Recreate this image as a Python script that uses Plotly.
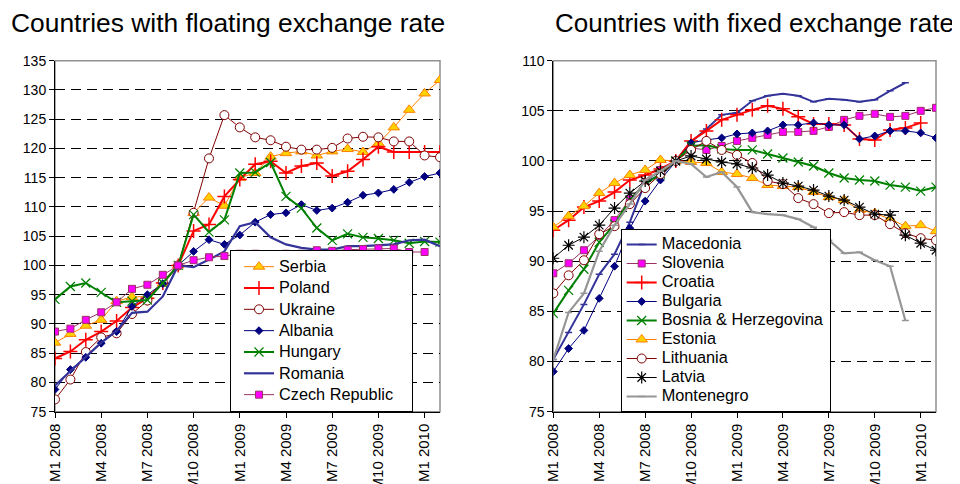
import plotly.graph_objects as go

months = [f"M{m} {y}" for y in (2008, 2009) for m in range(1, 13)] + ["M1 2010", "M2 2010"]

# ---- floating exchange rate countries ----
serbia = [86.8, 88.3, 89.7, 90.7, 93.9, 94.6, 94.7, 96.9, 100, 109.0, 111.6, 110.2, 115.0, 115.8, 118.6, 119.2,
          119.5, 118.8, 119.5, 119.9, 119.4, 120.9, 123.6, 126.6, 129.4, 131.7]
poland = [84.1, 85.3, 87.3, 88.7, 90.5, 92.8, 94.4, 97.0, 100, 105.9, 107.0, 111.8, 114.7, 117.3, 117.8, 115.8,
          117.0, 117.5, 115.3, 116.1, 118.1, 120.3, 119.4, 119.4, 119.4, 119.4]
ukraine = [77.1, 80.5, 85.2, 87.7, 88.4, 91.7, 94.0, 97.2, 100, 109.0, 118.3, 125.7, 123.6, 121.9, 121.4, 120.3,
           119.8, 119.8, 120.1, 121.7, 122.0, 121.9, 121.2, 121.2, 118.8, 118.5]
albania = [78.8, 82.2, 84.3, 86.7, 88.7, 93.0, 95.0, 96.9, 100, 102.4, 104.4, 103.6, 105.2, 107.4, 108.7, 109.0,
           110.4, 109.4, 109.8, 110.8, 112.0, 112.4, 113.0, 114.2, 115.2, 115.8]
hungary = [94.2, 96.4, 97.0, 95.4, 93.7, 93.9, 94.1, 97.0, 100, 108.7, 105.7, 107.8, 115.8, 115.9, 117.6, 111.8,
           109.8, 106.4, 104.3, 105.4, 104.8, 104.6, 104.3, 103.8, 104.1, 104.0]
romania = [79.5, 81.9, 84.4, 86.8, 88.8, 91.9, 92.1, 94.7, 100, 99.7, 101.0, 102.4, 106.7, 107.4, 104.8, 103.6,
           103.0, 102.7, 102.7, 103.3, 103.3, 103.4, 103.6, 104.3, 104.4, 103.3]
czech = [88.7, 89.2, 90.7, 92.0, 93.7, 96.0, 96.7, 98.4, 100, 100.9, 101.4, 101.6, 102.0, 102.0, 101.9, 102.0,
         102.0, 102.6, 102.5, 102.7, 102.8, 102.9, 102.9, 102.3, 102.3, None]

# ---- fixed exchange rate countries ----
macedonia = [80.2, 82.9, 85.7, 88.7, 90.7, 93.9, 97.9, 98.6, 100, 101.9, 103.2, 104.6, 104.8, 106.0, 106.5, 106.7,
             106.5, 105.9, 106.2, 106.1, 105.9, 106.1, 107.0, 107.8, None, None]
slovenia = [88.8, 89.8, 91.1, 92.5, 94.1, 96.2, 97.9, 99.1, 100, 101.3, 101.1, 101.5, 102.0, 102.3, 102.6, 102.9,
            102.9, 103.0, 103.4, 104.1, 104.5, 104.7, 104.4, 104.5, 105.0, 105.3]
croatia = [93.1, 94.1, 95.4, 96.0, 96.9, 98.1, 98.6, 99.2, 100, 102.0, 103.0, 104.1, 104.6, 105.1, 105.5, 105.2,
           104.4, 103.7, 103.7, 103.6, 102.2, 102.1, 103.1, 103.3, 103.8, None]
bulgaria = [79.0, 81.3, 83.1, 86.3, 89.5, 93.3, 96.0, 98.1, 100, 101.8, 102.1, 102.3, 102.7, 102.8, 103.0, 103.6,
            103.6, 103.8, 103.6, 103.6, 102.2, 102.5, 103.0, 103.0, 102.8, 102.3]
bosnia = [84.8, 87.1, 89.2, 91.9, 93.7, 96.1, 97.7, 98.7, 100, 101.5, 101.6, 101.2, 101.1, 101.1, 100.7, 100.3,
          99.9, 99.5, 98.8, 98.3, 98.1, 98.0, 97.6, 97.4, 97.0, 97.4]
estonia = [93.4, 94.5, 95.5, 96.8, 97.8, 98.6, 99.1, 100.1, 100, 99.9, 99.8, 98.9, 98.7, 98.3, 97.6, 97.5,
           97.4, 96.9, 96.4, 96.1, 95.1, 94.8, 94.2, 93.5, 93.6, 93.0]
lithuania = [86.8, 88.6, 90.1, 92.7, 93.5, 95.7, 97.3, 98.7, 100, 101.1, 102.0, 101.1, 100.6, 99.8, 98.0, 97.7,
             96.3, 95.7, 94.8, 94.9, 94.6, 94.6, 93.7, 92.8, 92.3, 92.1]
latvia = [90.3, 91.6, 92.4, 93.6, 95.3, 96.8, 98.0, 99.0, 100, 100.5, 100.2, 99.9, 99.7, 99.3, 98.6, 97.8,
          97.5, 97.1, 96.5, 96.1, 95.4, 94.7, 94.6, 92.6, 91.8, 91.1]
montenegro = [80.2, 84.9, 86.8, 91.0, 93.6, 95.7, 98.1, 99.0, 100, 99.7, 98.4, 98.9, 97.4, 94.9, 94.7, 94.6,
              94.2, 93.4, 92.1, 90.8, 90.9, 90.1, 89.5, 84.1, None, None]

left_ticks = list(range(75, 136, 5))
right_ticks = list(range(75, 111, 5))

FONT = "Liberation Sans, Arial, sans-serif"

fig = go.Figure()


def add(name, y, color, width, symbol=None, msize=8, mfill=None, mline=None, mlw=1, xa="x", ya="y",
        lg="legend", pad=0):
    mode = "lines+markers" if symbol else "lines"
    marker = None
    if symbol:
        marker = dict(symbol=symbol, size=msize, color=mfill if mfill else color,
                      line=dict(color=mline if mline else color, width=mlw))
    label = f'<span style="font-size:16.3px">{name}{"&nbsp;" * pad}</span>'
    fig.add_trace(go.Scatter(x=months, y=y, name=label, mode=mode, xaxis=xa, yaxis=ya, legend=lg,
                             line=dict(color=color, width=width), marker=marker, connectgaps=False))


add("Serbia", serbia, "#FF8000", 1, "triangle-up", 10, "#FFD000", "#FF8000")
add("Poland", poland, "#FF0000", 2, "cross-thin", 10, None, "#FF0000", 1.5)
add("Ukraine", ukraine, "#800000", 1, "circle", 9, "white", "#800000")
add("Albania", albania, "#000080", 1, "diamond", 6, "#000080", "#000080")
add("Hungary", hungary, "#008000", 2, "x-thin", 9, None, "#008000", 1.2)
add("Romania", romania, "#333399", 2.2)
add("Czech Republic", czech, "#993366", 1, "square", 7, "#FF00FF", "#993366", pad=3)

add("Macedonia", macedonia, "#333399", 2, "line-ew", 5, None, "#333399", 1.5, "x2", "y2", "legend2")
add("Slovenia", slovenia, "#993366", 1, "square", 7, "#FF00FF", "#993366", 1, "x2", "y2", "legend2")
add("Croatia", croatia, "#FF0000", 2, "cross-thin", 10, None, "#FF0000", 1.5, "x2", "y2", "legend2")
add("Bulgaria", bulgaria, "#000080", 1, "diamond", 6, "#000080", "#000080", 1, "x2", "y2", "legend2")
add("Bosnia & Herzegovina", bosnia, "#008000", 2, "x-thin", 9, None, "#008000", 1.2, "x2", "y2", "legend2")
add("Estonia", estonia, "#FF8000", 1, "triangle-up", 10, "#FFD000", "#FF8000", 1, "x2", "y2", "legend2")
add("Lithuania", lithuania, "#800000", 1, "circle", 9, "white", "#800000", 1, "x2", "y2", "legend2")
add("Latvia", latvia, "#000000", 1, "asterisk-open", 10, None, "#000000", 1.2, "x2", "y2", "legend2")
add("Montenegro", montenegro, "#969696", 2.2, "line-ew", 5, None, "#969696", 1.5, "x2", "y2", "legend2")

# page body has an 8px margin: the figure is sized to fill the rest of the 960x484 window
OFF = 8
FW, FH = 960 - OFF, 484 - OFF


def px(p):
    return (p - OFF) / FW


def py(p):
    return 1 - (p - OFF) / FH


top_px, bot_px = 60.7, 411.7


def xax(x0, x1):
    return dict(domain=[px(x0), px(x1)], type="category", categoryorder="array", categoryarray=months,
                range=[0, 25], tickmode="array", tickvals=months[::3], ticktext=months[::3], tickangle=-90,
                ticks="outside", ticklen=5, tickcolor="black", showline=True, linecolor="black", linewidth=1,
                showgrid=False, zeroline=False, automargin=False,
                tickfont=dict(family=FONT, size=15, color="black"))


def yax(rng, ticks, anchor):
    return dict(domain=[py(bot_px), py(top_px)], range=rng, tickmode="array", tickvals=ticks,
                ticks="outside", ticklen=5, tickcolor="black", showline=True, linecolor="black", linewidth=1,
                showgrid=True, gridcolor="black", gridwidth=1, griddash="10px,6px", zeroline=False,
                anchor=anchor, automargin=False, tickfont=dict(family=FONT, size=14, color="black"))


legend_common = dict(bgcolor="white", bordercolor="black", borderwidth=1, xanchor="left", yanchor="bottom",
                     tracegroupgap=0, traceorder="normal")

fig.update_layout(
    width=FW, height=FH, margin=dict(l=0, r=0, t=0, b=0, autoexpand=False),
    paper_bgcolor="white", plot_bgcolor="white", showlegend=True,
    font=dict(family=FONT, color="black"),
    xaxis=dict(xax(55, 440), anchor="y"),
    yaxis=yax([75, 135], left_ticks, "x"),
    xaxis2=dict(xax(553.3, 936), anchor="y2"),
    yaxis2=yax([75, 110], right_ticks, "x2"),
    legend=dict(legend_common, x=px(230), y=py(412), indentation=8,
                font=dict(family=FONT, size=14.1, color="black")),
    legend2=dict(legend_common, x=px(620.7), y=py(412), font=dict(family=FONT, size=11.5, color="black")),
    annotations=[
        dict(text="Countries with floating exchange rate", x=px(228), y=py(23), xref="paper", yref="paper",
             xanchor="center", yanchor="middle", showarrow=False, font=dict(family=FONT, size=26.4, color="black")),
        dict(text="Countries with fixed exchange rate", x=px(754), y=py(23), xref="paper", yref="paper",
             xanchor="center", yanchor="middle", showarrow=False, font=dict(family=FONT, size=26, color="black")),
    ],
    shapes=[
        dict(type="rect", xref="x domain", yref="y domain", x0=0, x1=1, y0=0, y1=1,
             line=dict(color="#909090", width=1.5), layer="below"),
        dict(type="rect", xref="x2 domain", yref="y2 domain", x0=0, x1=1, y0=0, y1=1,
             line=dict(color="#909090", width=1.5), layer="below"),
    ],
)

fig.write_html("out.html")
